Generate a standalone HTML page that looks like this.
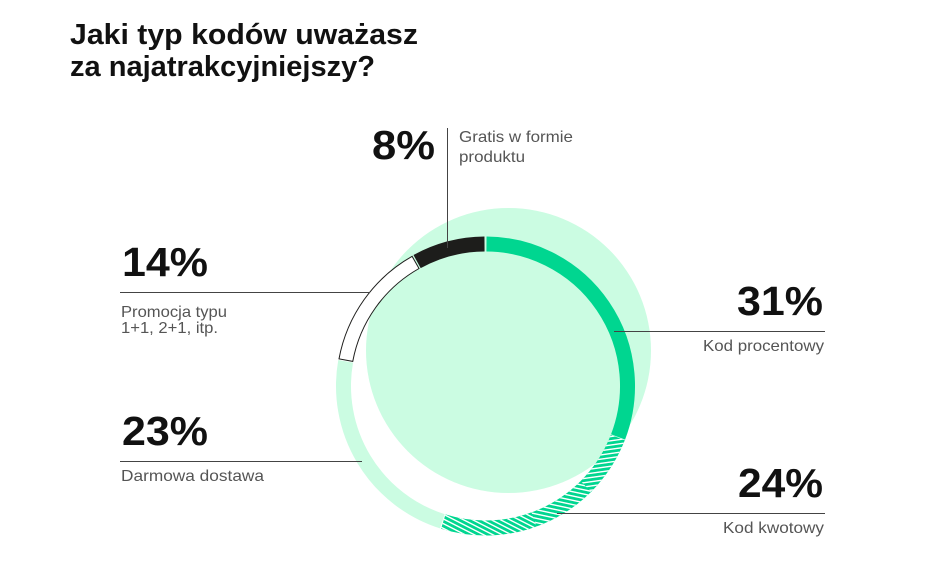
<!DOCTYPE html>
<html><head><meta charset="utf-8"><style>
html,body{margin:0;padding:0;background:#fff;}
svg{display:block;}
</style></head><body>
<svg width="945" height="580" viewBox="0 0 945 580" xmlns="http://www.w3.org/2000/svg">
<defs>
<pattern id="pA" patternUnits="userSpaceOnUse" width="10" height="4.2" patternTransform="rotate(-8)">
<rect x="0" y="0" width="10" height="1.4" fill="#fff"/>
</pattern>
<pattern id="pB" patternUnits="userSpaceOnUse" width="10" height="4.2" patternTransform="rotate(12)">
<rect x="0" y="0" width="10" height="1.4" fill="#fff"/>
</pattern>
<pattern id="pC" patternUnits="userSpaceOnUse" width="10" height="4.2" patternTransform="rotate(27)">
<rect x="0" y="0" width="10" height="1.4" fill="#fff"/>
</pattern>
</defs>
<rect width="945" height="580" fill="#fff"/>
<!-- title -->
<g font-family="Liberation Sans, sans-serif" font-weight="bold" fill="#111" font-size="29">
<text x="70" y="44" textLength="348" lengthAdjust="spacingAndGlyphs">Jaki typ kodów uważasz</text>
<text x="70" y="76" textLength="305" lengthAdjust="spacingAndGlyphs">za najatrakcyjniejszy?</text>
</g>
<!-- background circle -->
<circle cx="508.5" cy="350.5" r="142.5" fill="#cbfce2"/>
<!-- ring segments -->
<g fill="none" stroke-width="15">
<path d="M486.49 244.0 A142 142 0 0 1 618.07 436.89" stroke="#00d690"/>
<path d="M617.80 437.58 A142 142 0 0 1 443.27 521.58" stroke="#00d690"/>
<path d="M442.33 521.28 A142 142 0 0 1 345.66 361.34" stroke="#cbfce2"/>
<path d="M417.09 261.56 A142 142 0 0 1 484.51 244.0" stroke="#1d1d1b"/>
</g>
<!-- hatch stripes -->
<path d="M624.79 440.31 A149.5 149.5 0 0 1 591.21 491.71 L580.61 481.11 A134.5 134.5 0 0 0 610.81 434.86 Z" fill="url(#pA)"/>
<path d="M591.21 491.71 A149.5 149.5 0 0 1 536.63 526.48 L531.50 512.39 A134.5 134.5 0 0 0 580.61 481.11 Z" fill="url(#pB)"/>
<path d="M536.63 526.48 A149.5 149.5 0 0 1 441.04 528.74 L445.50 514.42 A134.5 134.5 0 0 0 531.50 512.39 Z" fill="url(#pC)"/>
<path d="M339.00 358.85 A149 149 0 0 1 412.13 256.32 L419.02 268.50 A135 135 0 0 0 352.76 361.40 Z" fill="#fff" stroke="#1d1d1b" stroke-width="1"/>
<!-- leader lines -->
<g stroke="#444" stroke-width="1">
<line x1="447.5" y1="128" x2="447.5" y2="248"/>
<line x1="120" y1="292.5" x2="370" y2="292.5"/>
<line x1="120" y1="461.5" x2="362" y2="461.5"/>
<line x1="614" y1="331.5" x2="825" y2="331.5"/>
<line x1="557" y1="513.5" x2="825" y2="513.5"/>
</g>
<!-- percentages -->
<g font-family="Liberation Sans, sans-serif" font-weight="bold" fill="#111" font-size="41">
<text x="372" y="159" textLength="63" lengthAdjust="spacingAndGlyphs">8%</text>
<text x="122" y="276" textLength="86" lengthAdjust="spacingAndGlyphs">14%</text>
<text x="122" y="445" textLength="86" lengthAdjust="spacingAndGlyphs">23%</text>
<text x="737" y="315" textLength="86" lengthAdjust="spacingAndGlyphs">31%</text>
<text x="738" y="497" textLength="85" lengthAdjust="spacingAndGlyphs">24%</text>
</g>
<!-- labels -->
<g font-family="Liberation Sans, sans-serif" fill="#555" font-size="16">
<text x="459" y="142" textLength="114" lengthAdjust="spacingAndGlyphs">Gratis w formie</text>
<text x="459" y="162" textLength="66" lengthAdjust="spacingAndGlyphs">produktu</text>
<text x="121" y="317" textLength="106" lengthAdjust="spacingAndGlyphs">Promocja typu</text>
<text x="121" y="333" textLength="97" lengthAdjust="spacingAndGlyphs">1+1, 2+1, itp.</text>
<text x="121" y="481" textLength="143" lengthAdjust="spacingAndGlyphs">Darmowa dostawa</text>
<text x="703" y="351" textLength="121" lengthAdjust="spacingAndGlyphs">Kod procentowy</text>
<text x="723" y="533" textLength="101" lengthAdjust="spacingAndGlyphs">Kod kwotowy</text>
</g>
</svg>
</body></html>
